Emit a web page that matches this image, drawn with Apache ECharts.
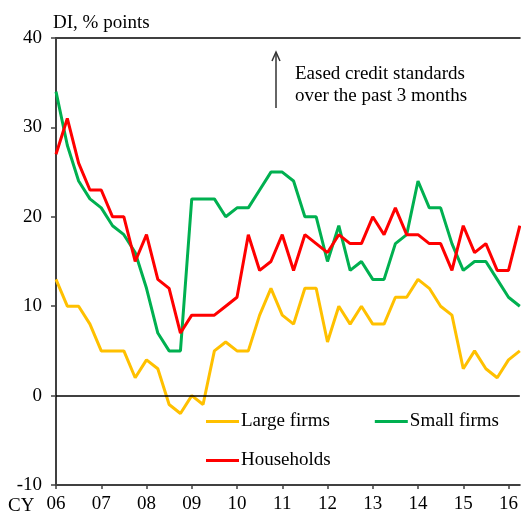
<!DOCTYPE html>
<html>
<head>
<meta charset="utf-8">
<script src="https://cdn.jsdelivr.net/npm/echarts@6/dist/echarts.min.js"></script>
<style>
html,body{margin:0;padding:0;background:#fff;}
#c{width:521px;height:516px;}
</style>
</head>
<body>
<div id="c"></div>
<script>
// Tick labels (calendar years, Q1 of each)
var yearLabels = ['06','07','08','09','10','11','12','13','14','15','16'];
// Quarterly categories 2006Q1 .. 2016Q2
var quarters = [];
yearLabels.forEach(function (y) { ['Q1','Q2','Q3','Q4'].forEach(function (q) { quarters.push(y + q); }); });
quarters = quarters.slice(0, 42);

var largeFirms = [13,10,10,8,5,5,5,2,4,3,-1,-2,0,-1,5,6,5,5,9,12,9,8,12,12,6,10,8,10,8,8,11,11,13,12,10,9,3,5,3,2,4,5];
var smallFirms = [34,28,24,22,21,19,18,16,12,7,5,5,22,22,22,20,21,21,23,25,25,24,20,20,15,19,14,15,13,13,17,18,24,21,21,17,14,15,15,13,11,10];
var households = [27,31,26,23,23,20,20,15,18,13,12,7,9,9,9,10,11,18,14,15,18,14,18,17,16,18,17,17,20,18,21,18,18,17,17,14,19,16,17,14,14,19];

var seriesNames = ['Large firms','Small firms','Households'];
var yTicks = { min: -10, max: 40, interval: 10 };

var FONT = 'Liberation Serif';
var AX = '#404040';
var FS = 19;

var chart = echarts.init(document.getElementById('c'));
chart.setOption({
  animation: false,
  backgroundColor: '#fff',
  grid: { left: 56, right: 0, top: 38, bottom: 31, containLabel: false },
  xAxis: [{
    type: 'category',
    data: quarters,
    boundaryGap: false,
    axisLine: { onZero: false, lineStyle: { color: AX, width: 2 } },
    axisTick: { show: true, interval: 3, length: 4, lineStyle: { color: AX, width: 1.5 } },
    axisLabel: { interval: 3, margin: 10, fontFamily: FONT, fontSize: FS, color: '#000',
      formatter: function (v) { return v.slice(0, 2); } },
    splitLine: { show: false }
  }, {
    type: 'category',
    data: quarters,
    position: 'top',
    boundaryGap: false,
    axisLine: { onZero: false, lineStyle: { color: AX, width: 2 } },
    axisTick: { show: false },
    axisLabel: { show: false },
    splitLine: { show: false }
  }],
  yAxis: {
    type: 'value',
    min: yTicks.min, max: yTicks.max, interval: yTicks.interval,
    axisLine: { show: true, lineStyle: { color: AX, width: 2 } },
    axisTick: { show: true, length: 5, lineStyle: { color: AX, width: 1.5 } },
    axisLabel: { margin: 14, fontFamily: FONT, fontSize: FS, color: '#000' },
    splitLine: { show: false }
  },
  legend: [{
    data: [seriesNames[0], seriesNames[1]],
    left: 206, top: 412, padding: 0,
    icon: 'rect',
    itemWidth: 33, itemHeight: 3, itemGap: 45,
    textStyle: { fontFamily: FONT, fontSize: FS, color: '#000', padding: [0,0,0,-3] },
    selectedMode: false
  }, {
    data: [seriesNames[2]],
    left: 206, top: 451, padding: 0,
    icon: 'rect',
    itemWidth: 33, itemHeight: 3,
    textStyle: { fontFamily: FONT, fontSize: FS, color: '#000', padding: [0,0,0,-3] },
    selectedMode: false
  }],
  series: [{
    name: seriesNames[0], type: 'line', data: largeFirms, symbol: 'none',
    lineStyle: { color: '#FFC000', width: 3 }, itemStyle: { color: '#FFC000' },
    markLine: {
      silent: true, symbol: ['none','none'], label: { show: false },
      lineStyle: { color: '#000', width: 1.5, type: 'solid' },
      data: [{ yAxis: 0 }]
    }
  }, {
    name: seriesNames[1], type: 'line', data: smallFirms, symbol: 'none',
    lineStyle: { color: '#00B050', width: 3 }, itemStyle: { color: '#00B050' }
  }, {
    name: seriesNames[2], type: 'line', data: households, symbol: 'none',
    lineStyle: { color: '#FF0000', width: 3 }, itemStyle: { color: '#FF0000' }
  }],
  graphic: [
    { type: 'text', left: 53, top: 14, style: { text: 'DI, % points', font: '19px "Liberation Serif"', fill: '#000' } },
    { type: 'text', left: 8, top: 497, style: { text: 'CY', font: '19px "Liberation Serif"', fill: '#000' } },
    { type: 'text', left: 295, top: 63, style: { text: 'Eased credit standards\nover the past 3 months', font: '19px "Liberation Serif"', lineHeight: 22, fill: '#000' } },
    { type: 'line', shape: { x1: 276, y1: 108, x2: 276, y2: 53 }, style: { stroke: '#333', lineWidth: 1.5 } },
    { type: 'polyline', shape: { points: [[272, 61], [276, 52], [280, 61]] }, style: { stroke: '#333', lineWidth: 1.5, fill: null } }
  ]
});
</script>
</body>
</html>
